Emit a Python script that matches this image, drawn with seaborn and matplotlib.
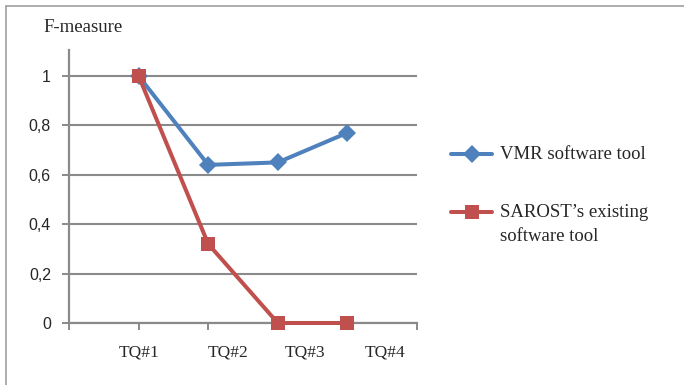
import pandas as pd
import seaborn as sns
import matplotlib.pyplot as plt
from matplotlib.lines import Line2D
from matplotlib.ticker import FuncFormatter

sns.set_style("white")

# data
questions = ["TQ#1", "TQ#2", "TQ#3", "TQ#4"]
vmr = [1.0, 0.64, 0.65, 0.77]
sarost = [1.0, 0.32, 0.0, 0.0]
series_names = ["VMR software tool", "SAROST\u2019s existing\nsoftware tool"]
y_ticks = [0, 0.2, 0.4, 0.6, 0.8, 1.0]
label_pos = [1.0, 2.28, 3.39, 4.54]   # where the category labels sit on the axis

df = pd.DataFrame({
    "pos": list(range(1, 5)) * 2,
    "value": vmr + sarost,
    "tool": [series_names[0]] * 4 + [series_names[1]] * 4,
})

GRAY = "#8a8a8a"
SERIF = "Liberation Serif"
SANS = "Liberation Sans"

fig = plt.figure(figsize=(6.84, 3.85), dpi=100)
ax = fig.add_axes([69 / 684, 1 - 323 / 385, (417 - 69) / 684, (323 - 50) / 385])

sns.lineplot(
    data=df, x="pos", y="value", hue="tool", style="tool",
    palette=["#4f81bd", "#c0504d"], markers=["D", "s"], dashes=False,
    linewidth=2.9, markersize=9.5, markeredgewidth=0, ax=ax,
)
for ln in ax.lines:
    ln.set_clip_on(False)
    ln.set_zorder(3)

ax.set_xlim(0, 5)
ax.set_ylim(0, 1.105)
ax.set_xticks(range(6))
ax.set_xticklabels([])
ax.set_yticks(y_ticks)
ax.yaxis.set_major_formatter(FuncFormatter(lambda v, _: f"{v:g}".replace(".", ",")))
for lab in ax.get_yticklabels():
    lab.set_fontfamily(SANS)
    lab.set_fontsize(11.5)
ax.tick_params(axis="both", length=5, width=1.4, color=GRAY, direction="out",
               left=True, bottom=True, pad=8)
ax.grid(True, axis="y", color=GRAY, linewidth=1.5)
ax.set_axisbelow(True)
for s in ["top", "right"]:
    ax.spines[s].set_visible(False)
for s in ["left", "bottom"]:
    ax.spines[s].set_color(GRAY)
    ax.spines[s].set_linewidth(1.6)
ax.set_xlabel("")
ax.set_ylabel("")

for x, q in zip(label_pos, questions):
    ax.text(x, -0.12, q, ha="center", va="center", fontsize=12.5, family=SERIF)

fig.text(83 / 684, 1 - 28 / 385, "F-measure", ha="center", va="center",
         fontsize=13.5, family=SERIF)

leg = ax.legend(loc="upper left", bbox_to_anchor=(434 / 684, 1 - 129 / 385),
                bbox_transform=fig.transFigure, frameon=False,
                handlelength=2.2, handleheight=1.1, handletextpad=0.4,
                labelspacing=2.15, prop={"family": SERIF, "size": 13.5})
for t in leg.get_texts():
    t.set_linespacing(1.55)
# keep the marker level with the first line of a two-line label
for col in leg._legend_handle_box.get_children():
    for row in col.get_children():
        row.align = "top"

# outer chart border (top and left visible in the reference)
fig.add_artist(Line2D([6 / 684, 6 / 684], [0, 1 - 6 / 385], color="#a0a0a0", lw=1.2))
fig.add_artist(Line2D([6 / 684, 1], [1 - 6 / 385, 1 - 6 / 385], color="#a0a0a0", lw=1.2))

fig.savefig("out.png", dpi=100)
